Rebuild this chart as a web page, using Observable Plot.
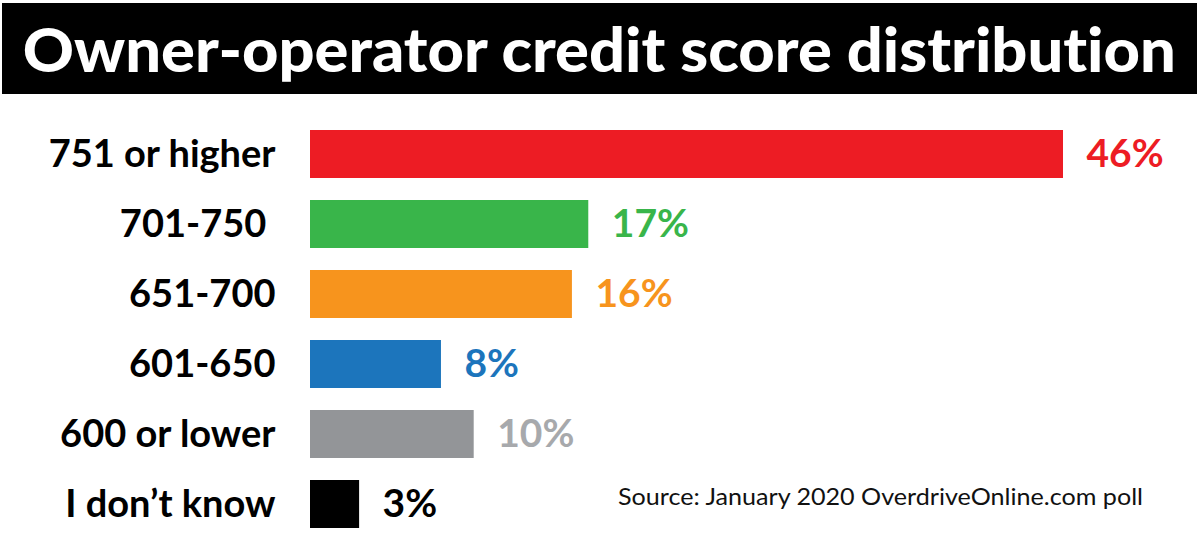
<!DOCTYPE html>
<html><head><meta charset="utf-8">
<script src="https://cdn.jsdelivr.net/npm/d3@7"></script>
<script src="https://cdn.jsdelivr.net/npm/@observablehq/plot@0.6"></script>
<style>
body{margin:0;background:#fff;width:1200px;height:535px;overflow:hidden;position:relative;font-family:Lato,"Open Sans",sans-serif;font-variant-ligatures:none}
#title{position:absolute;left:2px;top:3px;width:1195px;height:91px;background:#000;color:#fff;font-weight:900;font-size:60px;display:flex;align-items:center;justify-content:center;white-space:nowrap}
#title span{display:inline-block;transform-origin:center}
#chart{position:absolute;left:0;top:96px}
#chart svg text{font-variant-ligatures:none}
#source{position:absolute;left:618px;top:481px;font-size:24px;color:#111;white-space:nowrap;transform-origin:left center}
</style></head>
<body>
<div id="title"><span id="tt">Owner-operator credit score distribution</span></div>
<div id="chart"></div>
<div id="source">Source: January 2020 OverdriveOnline.com poll</div>
<script>
const categories = ["751 or higher", "701-750\u00A0", "651-700", "601-650", "600 or lower", "I don\u2019t know"];
const values = [46, 17, 16, 8, 10, 3];
const barColors = ["#ED1C24", "#39B54A", "#F7941D", "#1C75BC", "#939598", "#000000"];
const labelColors = ["#ED1C24", "#39B54A", "#F7941D", "#1C75BC", "#A7A9AC", "#000000"];

const data = categories.map((c, i) => ({category: c, value: values[i], bar: barColors[i], label: labelColors[i]}));

const chart = Plot.plot({
  width: 1200,
  height: 439,
  marginLeft: 310,
  marginRight: 137,
  marginTop: 31,
  marginBottom: 5,
  style: {fontFamily: "Lato, 'Open Sans', sans-serif", background: "transparent"},
  x: {domain: [0, 46], axis: null},
  y: {domain: categories, paddingInner: 0.32, paddingOuter: 0, axis: null},
  color: {type: "identity"},
  marks: [
    Plot.barX(data, {x: "value", y: "category", fill: d => d.bar}),
    Plot.axisY({tickSize: 0, tickPadding: 35, fontSize: 38, fontWeight: "bold", fill: "#000", label: null}),
    Plot.text(data, {x: "value", y: "category", text: d => d.value + "%", fill: d => d.label,
      textAnchor: "start", dx: 23, fontSize: 39, fontWeight: "bold"})
  ]
});
document.getElementById("chart").appendChild(chart);

// fit title and source text to the reference widths
const tt = document.getElementById("tt");
const tw = tt.getBoundingClientRect().width;
tt.style.transform = `scaleX(${1153 / tw})`;
const src = document.getElementById("source");
const sw = src.getBoundingClientRect().width;
src.style.transform = `scaleX(${525 / sw})`;
</script>
</body></html>
